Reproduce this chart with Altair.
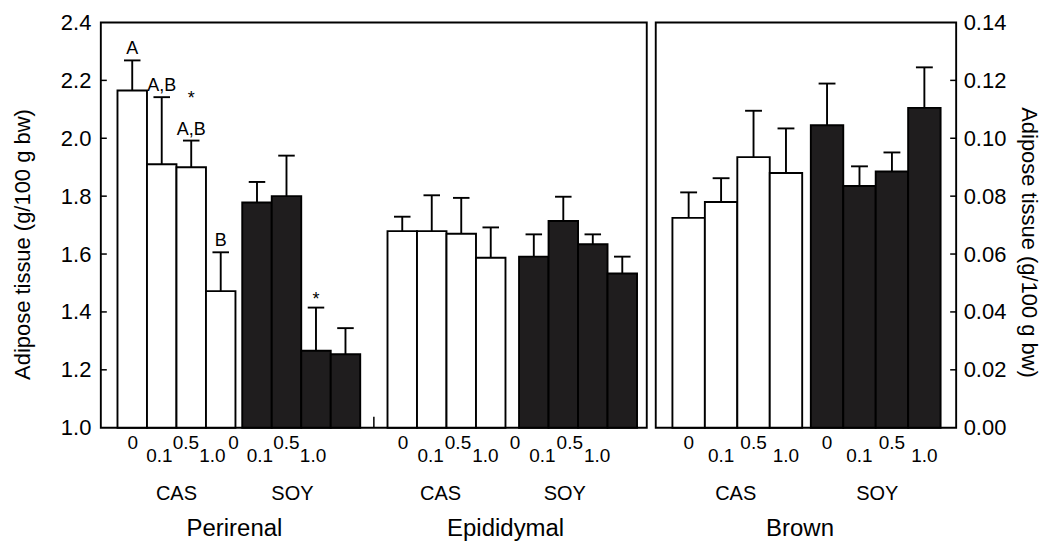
import altair as alt
import pandas as pd

# ---------------- data ----------------
doses = ["0", "0.1", "0.5", "1.0"]
diets = ["CAS", "SOY"]
tissues = ["Perirenal", "Epididymal", "Brown"]

peri_cas_mean = [2.165, 1.910, 1.900, 1.472]
peri_cas_se = [0.104, 0.232, 0.092, 0.134]
peri_soy_mean = [1.778, 1.800, 1.266, 1.254]
peri_soy_se = [0.071, 0.140, 0.149, 0.090]

epi_cas_mean = [1.679, 1.679, 1.670, 1.587]
epi_cas_se = [0.050, 0.124, 0.124, 0.105]
epi_soy_mean = [1.591, 1.714, 1.634, 1.533]
epi_soy_se = [0.077, 0.084, 0.034, 0.058]

brown_cas_mean = [0.0725, 0.0780, 0.0935, 0.0880]
brown_cas_se = [0.0088, 0.0082, 0.0160, 0.0154]
brown_soy_mean = [0.1045, 0.0835, 0.0885, 0.1105]
brown_soy_se = [0.0144, 0.0068, 0.0066, 0.0140]

ann_tissue = ["Perirenal", "Perirenal", "Perirenal", "Perirenal", "Perirenal", "Perirenal"]
ann_diet = ["CAS", "CAS", "CAS", "CAS", "CAS", "SOY"]
ann_dose = ["0", "0.1", "0.5", "0.5", "1.0", "0.5"]
ann_text = ["A", "A,B", "A,B", "*", "B", "*"]
ann_level = [0, 0, 0, 1, 0, 0]

left_axis_values = [1.0, 1.2, 1.4, 1.6, 1.8, 2.0, 2.2, 2.4]
right_axis_values = [0.00, 0.02, 0.04, 0.06, 0.08, 0.10, 0.12, 0.14]
left_inner_ticks = [1.2, 1.4, 1.6, 1.8, 2.0, 2.2]
right_inner_ticks = [0.02, 0.04, 0.06, 0.08, 0.10, 0.12]

Y_TITLE = "Adipose tissue  (g/100 g bw)"
Y_TITLE_R = "Adipose tissue (g/100 g bw)"

# ---------------- layout (styling only) ----------------
FONT = "Liberation Sans"
L_W, R_W, H = 547, 301, 406
L_DOMAIN, R_DOMAIN = 18.51, 9.26
group_start = {
    ("Perirenal", "CAS"): 0.565, ("Perirenal", "SOY"): 4.795,
    ("Epididymal", "CAS"): 9.72, ("Epididymal", "SOY"): 14.18,
    ("Brown", "CAS"): 0.514, ("Brown", "SOY"): 4.78,
}
label_offset = {
    ("Perirenal", "CAS"): 0.52, ("Perirenal", "SOY"): -0.30,
    ("Epididymal", "CAS"): 0.53, ("Epididymal", "SOY"): -0.14,
    ("Brown", "CAS"): 0.5, ("Brown", "SOY"): 0.5,
}
label_step = {"Perirenal": 0.9, "Epididymal": 0.93, "Brown": 1.0}
diet_shift = {
    ("Perirenal", "CAS"): 0.0, ("Perirenal", "SOY"): -0.3,
    ("Epididymal", "CAS"): -0.2, ("Epididymal", "SOY"): -0.45,
    ("Brown", "CAS"): -0.05, ("Brown", "SOY"): 0.05,
}
tissue_shift = {"Perirenal": 0.0, "Epididymal": 0.1, "Brown": -0.2}
CAP_HALF = {"left": 0.28, "right": 0.26}

series = {
    ("Perirenal", "CAS"): (peri_cas_mean, peri_cas_se),
    ("Perirenal", "SOY"): (peri_soy_mean, peri_soy_se),
    ("Epididymal", "CAS"): (epi_cas_mean, epi_cas_se),
    ("Epididymal", "SOY"): (epi_soy_mean, epi_soy_se),
    ("Brown", "CAS"): (brown_cas_mean, brown_cas_se),
    ("Brown", "SOY"): (brown_soy_mean, brown_soy_se),
}

rows, dose_rows, diet_rows = [], [], []
for (tissue, diet), (means, ses) in series.items():
    side = "right" if tissue == "Brown" else "left"
    s = group_start[(tissue, diet)]
    for i, d in enumerate(doses):
        xc = s + i + 0.5
        rows.append(dict(side=side, tissue=tissue, diet=diet, dose=d,
                         mean=means[i], top=means[i] + ses[i],
                         x0=s + i, x1=s + i + 1, xc=xc,
                         capl=xc - CAP_HALF[side], capr=xc + CAP_HALF[side]))
        dose_rows.append(dict(side=side, tissue=tissue, dose=d, low=i % 2,
                              lx=s + label_offset[(tissue, diet)] + i * label_step[tissue]))
    diet_rows.append(dict(side=side, tissue=tissue, diet=diet,
                          dx_=s + 2 + diet_shift[(tissue, diet)]))
df = pd.DataFrame(rows)
dose_df = pd.DataFrame(dose_rows)
diet_df = pd.DataFrame(diet_rows)
tissue_df = diet_df.groupby(["side", "tissue"], as_index=False)["dx_"].mean()
tissue_df["dx_"] = tissue_df["dx_"] + tissue_df["tissue"].map(tissue_shift)

ann_df = pd.DataFrame(dict(tissue=ann_tissue, diet=ann_diet, dose=ann_dose,
                           text=ann_text, level=ann_level))
ann_df = ann_df.merge(df[["tissue", "diet", "dose", "xc", "top"]],
                      on=["tissue", "diet", "dose"])

# separator tick between Perirenal and Epididymal
sep_x = (group_start[("Perirenal", "SOY")] + 4 + group_start[("Epididymal", "CAS")]) / 2


def panel(side, width, xdom, ydom, yaxis, inner_ticks):
    xs = alt.Scale(domain=[0, xdom], nice=False, zero=False)
    ys = alt.Scale(domain=ydom, nice=False, zero=False)
    d = df[df.side == side]
    base = alt.Chart(d)
    bars = base.mark_bar(stroke="black", strokeWidth=1.9).encode(
        x=alt.X("x0:Q", scale=xs, axis=None),
        x2="x1:Q",
        y=alt.Y("mean:Q", scale=ys, axis=yaxis),
        y2=alt.value(H),
        fill=alt.Fill("diet:N", scale=alt.Scale(domain=diets, range=["#ffffff", "#1f1d1e"]),
                      legend=None),
    )
    err = base.mark_rule(color="black", strokeWidth=1.9).encode(
        x=alt.X("xc:Q", scale=xs), y=alt.Y("mean:Q", scale=ys), y2="top:Q")
    cap = base.mark_rule(color="black", strokeWidth=1.9).encode(
        x=alt.X("capl:Q", scale=xs), x2="capr:Q", y=alt.Y("top:Q", scale=ys))
    ticks = alt.Chart(pd.DataFrame({"t": inner_ticks})).mark_rule(
        color="black", strokeWidth=1.5).encode(
        y=alt.Y("t:Q", scale=ys),
        x=alt.value(0 if side == "left" else width - 6),
        x2=alt.value(6 if side == "left" else width))
    dd = dose_df[dose_df.side == side]
    dose_hi = alt.Chart(dd[dd.low == 0]).mark_text(
        font=FONT, fontSize=19, baseline="middle", color="black").encode(
        x=alt.X("lx:Q", scale=xs), y=alt.value(H + 15), text="dose:N")
    dose_lo = alt.Chart(dd[dd.low == 1]).mark_text(
        font=FONT, fontSize=19, baseline="middle", color="black").encode(
        x=alt.X("lx:Q", scale=xs), y=alt.value(H + 28), text="dose:N")
    diet_t = alt.Chart(diet_df[diet_df.side == side]).mark_text(
        font=FONT, fontSize=20, baseline="middle", color="black").encode(
        x=alt.X("dx_:Q", scale=xs), y=alt.value(H + 66), text="diet:N")
    tis_t = alt.Chart(tissue_df[tissue_df.side == side]).mark_text(
        font=FONT, fontSize=24, baseline="middle", color="black").encode(
        x=alt.X("dx_:Q", scale=xs), y=alt.value(H + 102), text="tissue:N")
    layers = [bars, err, cap, ticks, dose_hi, dose_lo, diet_t, tis_t]
    if side == "left":
        a = ann_df
        letters = alt.Chart(a[a.text != "*"]).mark_text(
            font=FONT, fontSize=18, baseline="bottom", dy=-2, color="black").encode(
            x=alt.X("xc:Q", scale=xs), y=alt.Y("top:Q", scale=ys), text="text:N")
        star0 = alt.Chart(a[(a.text == "*") & (a.level == 0)]).mark_text(
            font=FONT, fontSize=18, baseline="middle", dy=-8, color="black").encode(
            x=alt.X("xc:Q", scale=xs), y=alt.Y("top:Q", scale=ys), text="text:N")
        star1 = alt.Chart(a[(a.text == "*") & (a.level == 1)]).mark_text(
            font=FONT, fontSize=18, baseline="middle", dy=-42, color="black").encode(
            x=alt.X("xc:Q", scale=xs), y=alt.Y("top:Q", scale=ys), text="text:N")
        sep = alt.Chart(pd.DataFrame({"s": [sep_x]})).mark_rule(
            color="black", strokeWidth=1.5).encode(
            x=alt.X("s:Q", scale=xs), y=alt.value(H - 11), y2=alt.value(H))
        layers += [letters, star0, star1, sep]
    return alt.layer(*layers).properties(width=width, height=H)


left_axis = alt.Axis(values=left_axis_values, format=".1f", ticks=False, domain=False,
                     grid=False, labelFontSize=22, labelPadding=10, labelFont=FONT,
                     labelColor="black", title=Y_TITLE, titleFont=FONT, titleFontSize=22,
                     titleFontWeight="normal", titleColor="black", titleAngle=270,
                     titleAlign="center", titleBaseline="middle",
                     titleX=-78, titleY=222)
right_axis = alt.Axis(values=right_axis_values, format=".2f", ticks=False, domain=False,
                      grid=False, orient="right", labelFontSize=22, labelPadding=7,
                      labelFont=FONT, labelColor="black", title=Y_TITLE_R, titleFont=FONT,
                      titleFontSize=22, titleFontWeight="normal", titleColor="black",
                      titleAngle=90, titlePadding=11, titleY=220)

left = panel("left", L_W, L_DOMAIN, [1.0, 2.4], left_axis, left_inner_ticks)
right = panel("right", R_W, R_DOMAIN, [0.0, 0.14], right_axis, right_inner_ticks)

chart = alt.hconcat(left, right, spacing=7).properties(
    padding={"left": 3, "top": 2, "right": 0, "bottom": 0},
    background="white",
).configure_view(stroke="black", strokeWidth=1.9).configure_concat(spacing=7)

chart.save("out.html", embed_options={"renderer": "svg", "actions": False})
